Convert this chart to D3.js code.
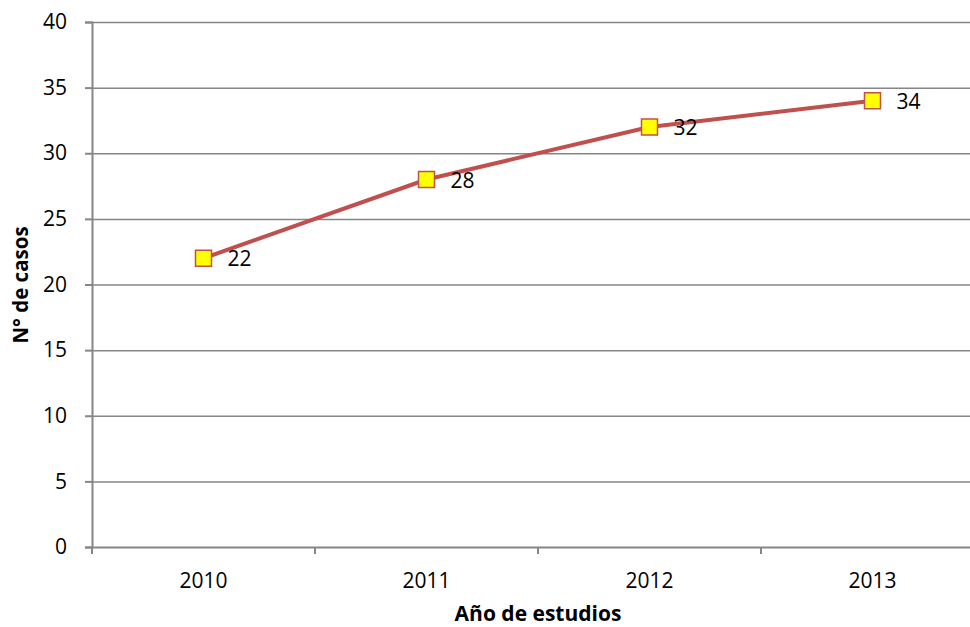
<!DOCTYPE html>
<html>
<head>
<meta charset="utf-8">
<script src="https://cdn.jsdelivr.net/npm/d3@7"></script>
<style>
  html, body { margin: 0; padding: 0; background: #fff; }
  svg { display: block; font-family: "Open Sans", sans-serif; }
</style>
</head>
<body>
<svg id="chart" width="970" height="627"></svg>
<script>
// Cases per study year
const years = ["2010", "2011", "2012", "2013"];
const cases = [22, 28, 32, 34];
const yTicks = [0, 5, 10, 15, 20, 25, 30, 35, 40];

(function () {
  const svg = d3.select("#chart");
  const plotLeft = 92, plotRight = 984, plotTop = 22, plotBottom = 547;

  const x = d3.scaleBand().domain(years).range([plotLeft, plotRight]);
  const y = d3.scaleLinear().domain([0, 40]).range([plotBottom, plotTop]);

  const axisColor = "#868686";

  // Horizontal gridlines
  svg.append("g").selectAll("line").data(yTicks.filter(d => d > 0)).join("line")
    .attr("x1", plotLeft).attr("x2", plotRight)
    .attr("y1", d => y(d) + 0.5).attr("y2", d => y(d) + 0.5)
    .attr("stroke", axisColor).attr("stroke-width", 1.5);

  // Y axis
  const yAxis = svg.append("g").attr("transform", `translate(${plotLeft},0)`)
    .call(d3.axisLeft(y).tickValues(yTicks).tickSize(7).tickPadding(18));
  yAxis.attr("font-family", null);
  yAxis.select(".domain").attr("stroke", axisColor).attr("stroke-width", 2);
  yAxis.selectAll(".tick line").attr("stroke", axisColor).attr("stroke-width", 2);
  yAxis.selectAll(".tick text").attr("font-size", 21).attr("fill", "#000");

  // X axis with ticks on category boundaries
  const xAxis = svg.append("g").attr("transform", `translate(0,${plotBottom})`)
    .call(d3.axisBottom(x).tickSize(0).tickPadding(26));
  xAxis.attr("font-family", null);
  xAxis.select(".domain").attr("stroke", axisColor).attr("stroke-width", 2);
  xAxis.selectAll(".tick text").attr("font-size", 21).attr("fill", "#000")
    .attr("y", 41).attr("dy", 0);
  xAxis.selectAll(".boundary").data(years).join("line")
    .attr("class", "boundary")
    .attr("x1", d => x(d)).attr("x2", d => x(d))
    .attr("y1", 0).attr("y2", 7)
    .attr("stroke", axisColor).attr("stroke-width", 2);

  // Series line
  const cx = (d, i) => x(years[i]) + x.bandwidth() / 2;
  svg.append("path")
    .datum(cases)
    .attr("d", d3.line().x(cx).y(d => y(d)))
    .attr("fill", "none").attr("stroke", "#C0504D").attr("stroke-width", 4)
    .attr("stroke-linejoin", "round");

  // Markers
  svg.append("g").selectAll("rect").data(cases).join("rect")
    .attr("x", (d, i) => cx(d, i) - 8).attr("y", d => y(d) - 8)
    .attr("width", 16).attr("height", 16)
    .attr("fill", "#FFFF00").attr("stroke", "#C0504D").attr("stroke-width", 1.5);

  // Value labels
  svg.append("g").selectAll("text").data(cases).join("text")
    .attr("x", (d, i) => cx(d, i) + 24).attr("y", d => y(d) + 8)
    .attr("font-size", 21).attr("fill", "#000")
    .text(d => d);

  // Axis titles
  svg.append("text")
    .attr("x", 538).attr("y", 621).attr("text-anchor", "middle")
    .attr("font-size", 21).attr("font-weight", "bold")
    .text("Año de estudios");
  svg.append("text")
    .attr("transform", "translate(28,285) rotate(-90)")
    .attr("text-anchor", "middle")
    .attr("font-size", 20.5).attr("font-weight", "bold")
    .text("N° de casos");
})();
</script>
</body>
</html>
